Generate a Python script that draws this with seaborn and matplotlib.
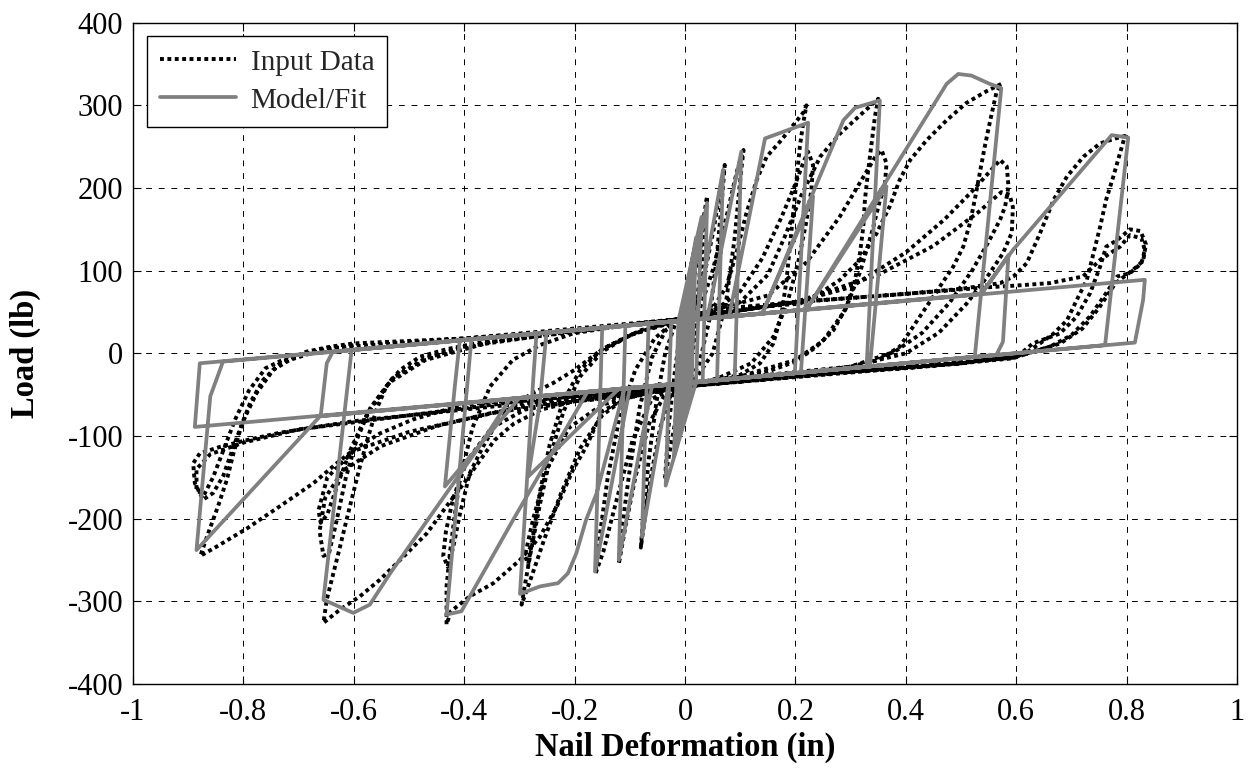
import matplotlib
matplotlib.use("Agg")
import numpy as np
import pandas as pd
import matplotlib.pyplot as plt
import seaborn as sns
from matplotlib.lines import Line2D

# ---------------------------------------------------------------------------
# Nail connection hysteresis: measured load-slip record (Input Data) and the
# fitted pinching hysteresis model (Model/Fit).  Each list is one loading
# cycle given as (deformation [in], load [lb]) pairs, in testing order.
# ---------------------------------------------------------------------------

# --- measured record -------------------------------------------------------
inp_small = [(0.000, 0), (0.008, 55), (0.016, 105), (0.012, 50), (0.002, -20),
             (-0.008, -60), (-0.016, -100), (-0.012, -50), (-0.002, 15),
             (0.010, 60), (0.022, 120), (0.030, 150), (0.026, 90), (0.014, 10),
             (0.000, -38), (-0.014, -70), (-0.028, -120), (-0.036, -150),
             (-0.030, -90), (-0.018, -20), (-0.006, 38)]
inp_c1 = [(0.000, 42), (0.012, 75), (0.024, 120), (0.034, 165), (0.040, 190),
          (0.036, 150), (0.028, 80), (0.016, 10), (0.000, -38), (-0.025, -48),
          (-0.045, -90), (-0.062, -150), (-0.074, -205), (-0.080, -235),
          (-0.076, -200), (-0.066, -130), (-0.052, -60), (-0.036, 0),
          (-0.018, 35), (0.000, 42)]
inp_c2 = [(0.015, 48), (0.035, 95), (0.052, 150), (0.064, 200), (0.072, 228),
          (0.068, 195), (0.058, 120), (0.044, 40), (0.025, -15), (0.000, -38),
          (-0.035, -48), (-0.065, -85), (-0.090, -150), (-0.108, -210),
          (-0.120, -255), (-0.115, -215), (-0.100, -140), (-0.082, -65),
          (-0.060, -5), (-0.035, 28), (0.000, 42)]
inp_c3 = [(0.025, 50), (0.050, 100), (0.075, 165), (0.094, 220), (0.106, 246),
          (0.100, 210), (0.090, 140), (0.074, 60), (0.050, 0), (0.020, -30),
          (-0.020, -42), (-0.060, -55), (-0.095, -105), (-0.125, -180),
          (-0.148, -240), (-0.162, -266), (-0.156, -228), (-0.140, -150),
          (-0.118, -75), (-0.090, -20), (-0.055, 18), (-0.020, 38)]
inp_c4 = [(0.000, 42), (0.030, 48), (0.051, 55), (0.075, 81), (0.093, 121),
          (0.111, 169), (0.130, 210), (0.148, 238), (0.172, 256), (0.196, 276),
          (0.214, 291), (0.220, 300), (0.214, 278), (0.208, 250), (0.202, 210),
          (0.196, 170), (0.190, 129), (0.184, 89), (0.175, 48), (0.160, 12),
          (0.136, -12), (0.100, -26), (0.050, -33), (0.000, -40),
          (-0.060, -47), (-0.110, -55), (-0.150, -75), (-0.190, -115),
          (-0.225, -170), (-0.255, -225), (-0.278, -270), (-0.296, -304),
          (-0.290, -280), (-0.278, -235), (-0.262, -180), (-0.242, -120),
          (-0.220, -70), (-0.190, -28), (-0.150, 2), (-0.100, 22),
          (-0.050, 33), (0.000, 42)]
inp_c4t = [(0.060, 55), (0.100, 75), (0.140, 115), (0.175, 165), (0.200, 205),
           (0.215, 232), (0.223, 244), (0.232, 228), (0.229, 198), (0.220, 160),
           (0.205, 110), (0.185, 60), (0.160, 20), (0.120, -12), (0.060, -30),
           (0.000, -40), (-0.080, -50), (-0.150, -62), (-0.210, -90),
           (-0.250, -140), (-0.275, -200), (-0.290, -245), (-0.284, -255),
           (-0.275, -220), (-0.262, -165), (-0.245, -110), (-0.222, -60),
           (-0.190, -20), (-0.150, 5), (-0.100, 22), (0.000, 42)]
inp_c5 = [(0.050, 52), (0.100, 62), (0.150, 95), (0.180, 140), (0.210, 190),
          (0.245, 238), (0.281, 266), (0.317, 288), (0.350, 308), (0.344, 286),
          (0.338, 254), (0.332, 222), (0.326, 186), (0.323, 153), (0.317, 121),
          (0.308, 89), (0.293, 57), (0.269, 28), (0.238, 8), (0.200, -10),
          (0.150, -22), (0.080, -32), (0.000, -40), (-0.100, -52),
          (-0.150, -70), (-0.179, -113), (-0.203, -141), (-0.232, -185),
          (-0.263, -222), (-0.299, -250), (-0.347, -278), (-0.390, -294),
          (-0.424, -312), (-0.432, -328), (-0.432, -282), (-0.426, -242),
          (-0.418, -200), (-0.408, -153), (-0.385, -90), (-0.353, -40),
          (-0.312, -8), (-0.263, 10), (-0.203, 24), (-0.130, 32), (0.000, 42)]
inp_c5t = [(0.050, 52), (0.150, 70), (0.220, 110), (0.280, 165), (0.320, 210),
           (0.345, 238), (0.356, 246), (0.365, 230), (0.362, 202), (0.353, 185),
           (0.340, 150), (0.318, 100), (0.290, 52), (0.250, 15), (0.200, -8),
           (0.100, -28), (0.000, -40), (-0.100, -52), (-0.200, -58),
           (-0.290, -68), (-0.350, -90), (-0.395, -130), (-0.420, -175),
           (-0.433, -215), (-0.438, -245), (-0.430, -258), (-0.420, -235),
           (-0.408, -195), (-0.390, -145), (-0.366, -113), (-0.342, -85),
           (-0.312, -64), (-0.276, -48), (-0.239, -36), (-0.200, -20),
           (-0.150, 5), (-0.080, 28), (0.000, 42)]
inp_c6 = [(0.100, 55), (0.208, 60), (0.245, 73), (0.281, 89), (0.317, 113),
          (0.347, 145), (0.371, 178), (0.389, 210), (0.408, 234), (0.438, 258),
          (0.474, 282), (0.510, 303), (0.546, 317), (0.573, 326), (0.564, 315),
          (0.553, 282), (0.543, 250), (0.534, 218), (0.525, 186), (0.516, 157),
          (0.504, 129), (0.486, 105), (0.462, 81), (0.438, 57), (0.413, 32),
          (0.389, 8), (0.350, -8), (0.300, -18), (0.200, -25), (0.000, -40),
          (-0.100, -50), (-0.200, -58), (-0.260, -68), (-0.310, -85),
          (-0.345, -105), (-0.371, -129), (-0.396, -153), (-0.432, -185),
          (-0.468, -218), (-0.504, -242), (-0.553, -274), (-0.589, -294),
          (-0.625, -310), (-0.655, -326), (-0.649, -298), (-0.637, -266),
          (-0.625, -234), (-0.613, -201), (-0.601, -169), (-0.589, -137),
          (-0.574, -101), (-0.559, -68), (-0.541, -40), (-0.516, -20),
          (-0.480, -4), (-0.432, 5), (-0.350, 16), (-0.200, 27), (0.000, 42)]
inp_c6t = [(0.100, 56), (0.200, 62), (0.300, 80), (0.400, 122), (0.470, 162),
           (0.520, 196), (0.555, 222), (0.571, 234), (0.583, 226), (0.586, 202),
           (0.580, 178), (0.571, 162), (0.550, 135), (0.520, 100), (0.480, 62),
           (0.430, 25), (0.380, 2), (0.300, -16), (0.200, -25), (0.000, -40),
           (-0.200, -58), (-0.350, -72), (-0.450, -88), (-0.550, -112),
           (-0.620, -142), (-0.652, -175), (-0.662, -215), (-0.655, -245),
           (-0.645, -242), (-0.632, -205), (-0.615, -152), (-0.595, -105),
           (-0.570, -66), (-0.530, -30), (-0.470, -6), (-0.400, 8),
           (-0.200, 27), (0.000, 42)]
inp_c6u = [(0.200, 62), (0.350, 95), (0.450, 130), (0.530, 170), (0.573, 195),
           (0.588, 192), (0.594, 177), (0.592, 146), (0.576, 121), (0.550, 95),
           (0.510, 60), (0.460, 25), (0.400, 0), (0.300, -16), (0.150, -26),
           (0.000, -40), (-0.300, -65), (-0.500, -95), (-0.600, -118),
           (-0.648, -150), (-0.664, -190), (-0.660, -205), (-0.648, -195),
           (-0.630, -160), (-0.605, -115), (-0.575, -72), (-0.535, -35),
           (-0.470, -8), (-0.350, 14), (-0.150, 30), (0.000, 42)]
inp_c7 = [(0.000, 42), (0.200, 62), (0.400, 72), (0.500, 78), (0.571, 85),
          (0.595, 93), (0.619, 109), (0.643, 145), (0.668, 186), (0.692, 214),
          (0.722, 238), (0.752, 254), (0.780, 260), (0.797, 263), (0.788, 242),
          (0.776, 214), (0.763, 186), (0.752, 153), (0.740, 121), (0.728, 89),
          (0.710, 65), (0.692, 40), (0.668, 24), (0.643, 12), (0.612, -2),
          (0.594, -6), (0.500, -12), (0.400, -18), (0.300, -22), (0.200, -25),
          (0.000, -40), (-0.200, -52), (-0.371, -60), (-0.432, -68),
          (-0.493, -80), (-0.553, -97), (-0.601, -117), (-0.631, -133),
          (-0.673, -157), (-0.734, -185), (-0.794, -212), (-0.849, -234),
          (-0.878, -245), (-0.864, -218), (-0.846, -185), (-0.830, -153),
          (-0.818, -121), (-0.806, -93), (-0.788, -60), (-0.764, -32),
          (-0.734, -12), (-0.686, 2), (-0.643, 8), (-0.601, 12), (-0.400, 18),
          (-0.200, 27), (0.000, 42)]
inp_c7t = [(0.200, 62), (0.400, 72), (0.550, 80), (0.600, 82), (0.661, 85),
           (0.721, 93), (0.752, 113), (0.788, 129), (0.806, 143), (0.827, 139),
           (0.833, 125), (0.827, 109), (0.806, 97), (0.783, 93), (0.760, 70),
           (0.734, 45), (0.700, 22), (0.661, 8), (0.612, -2), (0.500, -12),
           (0.300, -22), (0.000, -40), (-0.300, -58), (-0.500, -75),
           (-0.600, -82), (-0.734, -96), (-0.794, -105), (-0.842, -113),
           (-0.879, -121), (-0.891, -133), (-0.888, -157), (-0.873, -177),
           (-0.855, -169), (-0.837, -149), (-0.818, -113), (-0.800, -81),
           (-0.776, -48), (-0.746, -20), (-0.716, -8), (-0.650, 6),
           (-0.400, 18), (0.000, 42)]
inp_c7u = [(0.000, -40), (0.300, -22), (0.600, -5), (0.630, 12), (0.679, 24),
           (0.709, 44), (0.734, 73), (0.752, 105), (0.763, 129), (0.783, 137),
           (0.806, 150), (0.825, 148), (0.835, 132), (0.830, 112), (0.810, 100),
           (0.780, 85), (0.750, 55), (0.720, 30), (0.680, 12), (0.620, 0),
           (0.500, -12), (0.000, -40), (-0.500, -75), (-0.700, -92),
           (-0.800, -108), (-0.860, -122), (-0.885, -140), (-0.885, -165),
           (-0.872, -172), (-0.855, -150), (-0.835, -115), (-0.815, -80),
           (-0.790, -45), (-0.760, -18), (-0.720, -5), (-0.600, 10)]

# --- fitted model ----------------------------------------------------------
mod_small = [(0.000, 0), (0.006, 70), (0.002, -34), (-0.006, -70),
             (-0.002, 40), (0.012, 110), (0.006, -34), (-0.012, -100),
             (-0.006, 40), (0.020, 140), (0.012, -35), (-0.020, -125),
             (-0.012, 39), (0.030, 165), (0.020, -35), (-0.035, -160),
             (-0.025, 38)]
mod_c1 = [(0.000, 40), (0.040, 182), (0.032, -34), (-0.030, -38),
          (-0.078, -222), (-0.066, 36)]
mod_c2 = [(0.020, 41), (0.069, 222), (0.058, -33), (-0.060, -40),
          (-0.120, -250), (-0.108, 34)]
mod_c3 = [(0.040, 42), (0.102, 244), (0.090, -31), (-0.100, -42),
          (-0.163, -264), (-0.150, 31)]
mod_c4 = [(0.080, 45), (0.145, 260), (0.223, 279), (0.199, -24),
          (-0.110, -43), (-0.160, -169), (-0.179, -201), (-0.197, -242),
          (-0.212, -266), (-0.230, -278), (-0.263, -282), (-0.299, -291),
          (-0.275, -32), (-0.269, 24)]
mod_c4t = [(0.140, 48), (0.232, 190), (0.210, -23), (-0.120, -43),
           (-0.284, -149), (-0.263, -60), (-0.251, 25)]
mod_c5 = [(0.140, 48), (0.287, 282), (0.308, 297), (0.353, 306), (0.329, -16),
          (-0.177, -47), (-0.245, -125), (-0.311, -201), (-0.405, -312),
          (-0.432, -316), (-0.387, 17)]
mod_c5t = [(0.220, 53), (0.365, 202), (0.335, -16), (-0.300, -54),
           (-0.435, -161), (-0.417, -40), (-0.408, 16)]
mod_c6 = [(0.220, 53), (0.474, 326), (0.495, 338), (0.519, 336), (0.552, 326),
          (0.573, 321), (0.525, -4), (-0.317, -55), (-0.377, -117),
          (-0.432, -169), (-0.534, -266), (-0.571, -304), (-0.601, -314),
          (-0.655, -298), (-0.604, 4)]
mod_c6t = [(0.537, 72), (0.586, 119), (0.576, 14), (0.564, -2), (-0.660, -76),
           (-0.649, -12), (-0.638, 2)]
mod_c7 = [(0.537, 72), (0.594, 125), (0.773, 264), (0.803, 261), (0.761, 10),
          (-0.661, -76), (-0.885, -238), (-0.860, -52), (-0.837, -10)]
mod_c8 = [(0.833, 89), (0.830, 65), (0.815, 13), (-0.888, -89), (-0.879, -12),
          (0.000, 40)]

input_cycles = [inp_small, inp_c1, inp_c2, inp_c3, inp_c4, inp_c4t, inp_c5,
                inp_c5t, inp_c6, inp_c6t, inp_c6u, inp_c7, inp_c7t, inp_c7u]
model_cycles = [mod_small, mod_c1, mod_c2, mod_c3, mod_c4, mod_c4t, mod_c5,
                mod_c5t, mod_c6, mod_c6t, mod_c7, mod_c8]

x_ticks = [-1, -0.8, -0.6, -0.4, -0.2, 0, 0.2, 0.4, 0.6, 0.8, 1]
x_tick_labels = ["-1", "-0.8", "-0.6", "-0.4", "-0.2", "0", "0.2", "0.4",
                 "0.6", "0.8", "1"]
y_ticks = [-400, -300, -200, -100, 0, 100, 200, 300, 400]
y_tick_labels = ["-400", "-300", "-200", "-100", "0", "100", "200", "300",
                 "400"]
series_labels = ["Input Data", "Model/Fit"]


def as_frame(cycles):
    pts = [p for cyc in cycles for p in cyc]
    df = pd.DataFrame(pts, columns=["deformation", "load"])
    df["order"] = np.arange(len(df))
    return df


inp_df = as_frame(input_cycles)
mod_df = as_frame(model_cycles)

sns.set_theme(style="white")
plt.rcParams["font.family"] = ["Liberation Serif", "DejaVu Serif"]

fig = plt.figure(figsize=(12.57, 7.69), dpi=100)
ax = fig.add_axes([0.10581, 0.11053, 0.87828, 0.85995])

INPUT_STYLE = dict(color="black", lw=2.8, linestyle=(0, (1, 0.9)))
MODEL_STYLE = dict(color="#808080", lw=2.7, linestyle="-")

sns.lineplot(data=inp_df, x="deformation", y="load", sort=False,
             estimator=None, ax=ax, legend=False, **INPUT_STYLE)
sns.lineplot(data=mod_df, x="deformation", y="load", sort=False,
             estimator=None, ax=ax, legend=False, **MODEL_STYLE)

ax.set_xlim(-1, 1)
ax.set_ylim(-400, 400)
ax.set_xticks(x_ticks)
ax.set_xticklabels(x_tick_labels)
ax.set_yticks(y_ticks)
ax.set_yticklabels(y_tick_labels)

ax.set_axisbelow(True)
ax.grid(True, color="black", lw=0.7, linestyle=(0, (6, 7)))

for sp in ax.spines.values():
    sp.set_visible(True)
    sp.set_color("black")
    sp.set_linewidth(1.0)

ax.tick_params(axis="both", which="major", direction="in", length=6,
               width=0.8, color="black", labelcolor="black", labelsize=22,
               bottom=True, top=True, left=True, right=True)
ax.tick_params(axis="x", pad=10)
ax.tick_params(axis="y", pad=7)

ax.set_xlabel("Nail Deformation (in)", fontsize=23.5, fontweight="bold",
              color="black")
ax.set_ylabel("Load (lb)", fontsize=23.5, fontweight="bold", color="black")
ax.xaxis.set_label_coords(0.5, -0.072)
ax.yaxis.set_label_coords(-0.083, 0.5)

handles = [Line2D([], [], **INPUT_STYLE), Line2D([], [], **MODEL_STYLE)]
leg = ax.legend(handles, series_labels, loc="upper left",
                bbox_to_anchor=(0.0127, 0.9799), borderaxespad=0,
                fontsize=21, handlelength=2.6, handletextpad=0.5,
                labelspacing=0.4, borderpad=0.45, fancybox=False,
                framealpha=1, edgecolor="black")
leg.get_frame().set_linewidth(1.0)

fig.savefig("out.png", dpi=100, facecolor="white")
